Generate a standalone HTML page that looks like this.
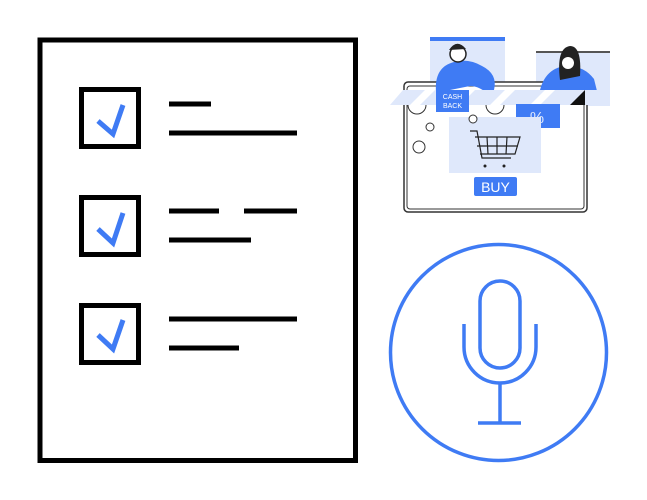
<!DOCTYPE html>
<html><head><style>html,body{margin:0;padding:0;background:#fff;width:647px;height:500px;overflow:hidden}</style></head>
<body>
<svg width="647" height="500" viewBox="0 0 647 500" xmlns="http://www.w3.org/2000/svg">
<!-- document -->
<rect x="40" y="40" width="315.5" height="420.5" fill="none" stroke="#000" stroke-width="5"/>
<g fill="none" stroke="#000" stroke-width="5">
<rect x="81.5" y="89.5" width="57" height="57"/>
<rect x="81.5" y="197.5" width="57" height="57"/>
<rect x="81.5" y="305.5" width="57" height="57"/>
</g>
<g fill="none" stroke="#3f7bf4" stroke-width="5">
<polyline points="98,121 113,134 123,105"/>
<polyline points="98,229 113,243 123,213"/>
<polyline points="98,335 113,349 123,320"/>
</g>
<g stroke="#000" stroke-width="5">
<line x1="169" y1="104" x2="211" y2="104"/>
<line x1="169" y1="133" x2="297" y2="133"/>
<line x1="169" y1="211" x2="219" y2="211"/>
<line x1="244" y1="211" x2="297" y2="211"/>
<line x1="169" y1="240" x2="251" y2="240"/>
<line x1="169" y1="319" x2="297" y2="319"/>
<line x1="169" y1="348" x2="239" y2="348"/>
</g>
<!-- mic -->
<circle cx="498.5" cy="352.5" r="108" fill="none" stroke="#3f7bf4" stroke-width="3.5"/>
<g fill="none" stroke="#3f7bf4" stroke-width="3.5">
<rect x="480" y="281" width="40" height="87" rx="20"/>
<path d="M464,324 V347 A36,36 0 0 0 536,347 V324"/>
<line x1="500" y1="383" x2="500" y2="423"/>
<line x1="478" y1="423" x2="521" y2="423"/>
</g>
<!-- shop -->
<rect x="430" y="37" width="75" height="70" fill="#dfe8fb"/>
<rect x="430" y="37" width="75" height="4" fill="#3f7bf4"/>
<rect x="536" y="51" width="74" height="55" fill="#dfe8fb"/>
<rect x="536" y="51" width="74" height="2" fill="#555"/>
<rect x="404" y="82" width="183" height="130" rx="4" fill="#fff" stroke="#333" stroke-width="1.5"/>
<rect x="407" y="86" width="177" height="123" rx="3" fill="none" stroke="#333" stroke-width="1"/>
<!-- people -->
<path d="M436,92 q-2,-25 18,-30 q14,-4 28,4 q16,8 12,24 l-4,6 q-10,-10 -20,-10 l-20,4 z" fill="#3f7bf4"/>
<circle cx="458" cy="54" r="8" fill="#fff" stroke="#222" stroke-width="1.5"/>
<path d="M449,50 q8,-12 17,-1 z" fill="#222"/>
<path d="M538,103 q2,-30 22,-36 q22,-4 34,12 l4,16 l-2,8 z" fill="#3f7bf4"/>
<path d="M560,80 q-4,-32 10,-34 q12,0 10,30 z" fill="#222"/>
<circle cx="568" cy="63" r="6" fill="#fff"/>
<!-- awning -->
<path d="M390,105 L403,90 H600 L610,105 Z" fill="#dfe8fb"/>
<g fill="#fff"><path d="M410,105 L425,90 H435 L420,105Z"/><path d="M450,105 L465,90 H475 L460,105Z"/><path d="M490,105 L505,90 H515 L500,105Z"/><path d="M530,105 L545,90 H555 L540,105Z"/></g>
<path d="M570,105 L585,90 V105Z" fill="#111"/>
<g fill="#fff" stroke="#333" stroke-width="1"><path d="M408,105 a9,9 0 0 0 18,0"/><path d="M486,105 a9,9 0 0 0 18,0"/></g>
<rect x="436" y="90" width="33" height="22" fill="#3f7bf4"/>
<text x="452.5" y="99" font-family="Liberation Sans,sans-serif" font-size="7" fill="#fff" text-anchor="middle">CASH</text>
<text x="452.5" y="108" font-family="Liberation Sans,sans-serif" font-size="7" fill="#fff" text-anchor="middle">BACK</text>
<rect x="516" y="104" width="44" height="24" fill="#3f7bf4"/>
<text x="537" y="123" font-family="Liberation Sans,sans-serif" font-size="16" fill="#dfe8fb" text-anchor="middle">%</text>
<!-- cart panel -->
<rect x="449" y="117" width="92" height="56" fill="#dfe8fb"/>
<g fill="none" stroke="#222" stroke-width="1.2">
<path d="M470,131 H477 L482,158 H511"/>
<path d="M475,137 H520 L515,154 H480"/>
<line x1="487" y1="137" x2="488" y2="154"/><line x1="497" y1="137" x2="497" y2="154"/><line x1="507" y1="137" x2="506" y2="154"/>
<line x1="477" y1="146" x2="518" y2="146"/>
</g>
<circle cx="485" cy="166" r="1.5" fill="#222"/><circle cx="504" cy="166" r="1.5" fill="#222"/>
<g fill="#fff" stroke="#333" stroke-width="1"><circle cx="430" cy="127" r="4"/><circle cx="419" cy="147" r="6"/><circle cx="473" cy="119" r="4"/></g>
<rect x="474" y="177" width="43" height="19" rx="2" fill="#3f7bf4"/>
<text x="495.5" y="192" font-family="Liberation Sans,sans-serif" font-size="14" fill="#fff" text-anchor="middle">BUY</text>
</svg>
</body></html>
